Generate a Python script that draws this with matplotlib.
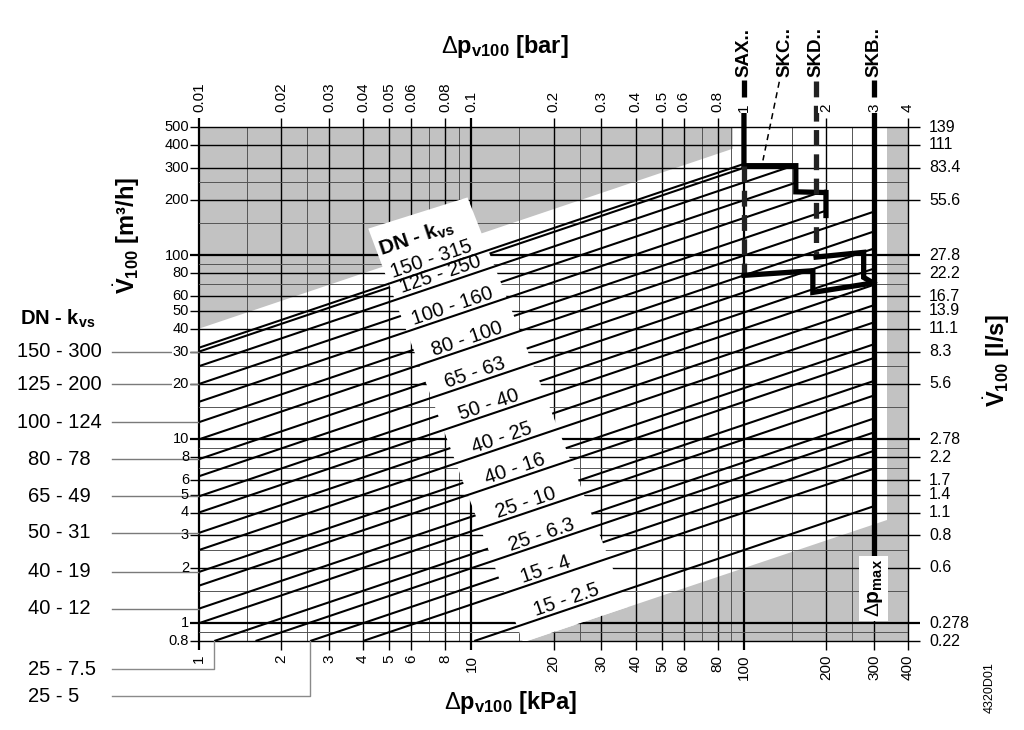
import numpy as np
import matplotlib
matplotlib.use("Agg")
import matplotlib.pyplot as plt

plt.rcParams['font.family'] = ['Liberation Sans', 'DejaVu Sans']
plt.rcParams['mathtext.fontset'] = 'custom'
plt.rcParams['mathtext.rm'] = 'Liberation Sans'
plt.rcParams['mathtext.bf'] = 'Liberation Sans:bold'
plt.rcParams['mathtext.it'] = 'Liberation Sans:italic'

# ---------------- data ----------------
x_major = [1, 2, 3, 4, 5, 6, 8, 10, 20, 30, 40, 50, 60, 80, 100, 200, 300, 400]
x_minor = [1.5, 2.5, 7, 9, 15, 25, 70, 90, 150, 250]
x_labels_kpa = ["1", "2", "3", "4", "5", "6", "8", "10", "20", "30", "40", "50", "60",
                "80", "100", "200", "300", "400"]
x_labels_bar = ["0.01", "0.02", "0.03", "0.04", "0.05", "0.06", "0.08", "0.1", "0.2",
                "0.3", "0.4", "0.5", "0.6", "0.8", "1", "2", "3", "4"]
x_thick = [1, 10, 100]

y_major = [0.8, 1, 2, 3, 4, 5, 6, 8, 10, 20, 30, 40, 50, 60, 80, 100, 200, 300, 400, 500]
y_minor = [0.9, 1.5, 2.5, 7, 9, 15, 25, 70, 90, 150, 250]
y_labels_m3h = ["0.8", "1", "2", "3", "4", "5", "6", "8", "10", "20", "30", "40", "50",
                "60", "80", "100", "200", "300", "400", "500"]
y_labels_ls = ["0.22", "0.278", "0.6", "0.8", "1.1", "1.4", "1.7", "2.2", "2.78", "5.6",
               "8.3", "11.1", "13.9", "16.7", "22.2", "27.8", "55.6", "83.4", "111", "139"]
y_thick = [1, 10, 100]

# kvs lines labelled inside the chart
kvs_inner = [315, 250, 160, 100, 63, 40, 25, 16, 10, 6.3, 4, 2.5]
dn_inner = [150, 125, 100, 80, 65, 50, 40, 40, 25, 25, 15, 15]
end_inner = [100, 152, 200, 300, 300, 300, 300, 300, 300, 300, 300, 300]
label_dp_inner = [7.3, 7.9, 8.7, 9.9, 10.6, 11.9, 13.3, 14.8, 16.2, 18.5, 19.2, 22.9]

# kvs lines labelled on the left
kvs_left = [300, 200, 124, 78, 49, 31, 19, 12, 7.5, 5]
dn_left = [150, 125, 100, 80, 65, 50, 40, 40, 25, 25]
end_left = [100, 155, 200, 300, 300, 300, 300, 300, 300, 300]
label_v_left = [30, 20, 12.4, 7.8, 4.9, 3.1, 1.9, 1.2, 0.56, 0.40]

# shaded (grey) areas, white label band
grey_top_dp = [1, 91, 91, 1]
grey_top_v = [500, 500, 381, 40]
grey_bot_dp = [16, 400, 400, 335, 335]
grey_bot_v = [0.8, 0.8, 500, 500, 3.66]
band_dp = [4.18, 9.67, 37.5, 16.0, 15.4]
band_v = [140, 207, 1.225, 0.8, 0.8]

# dp_max limit lines of actuators
sax_dp = [100, 100, 155, 155, 200, 200]
sax_v = [None, 308, 308, 222, 220, 165]
skc_dash_dp = [100, 100]
skc_dash_v = [308, 78]
skc_dp = [100, 179, 179, 300]
skc_v = [78, 82.6, 63, 71]
skd_dash_dp = [184, 184]
skd_dp = [184, 275, 275, 300]
skd_v = [98, 104, 76, 70.5]
skb_dp = [300, 300]
skb_v_end = 2.4
act_names = ["SAX..", "SKC..", "SKD..", "SKB.."]
act_label_dp = [100, 142, 184, 300]

GREY = '#c2c2c2'

fig = plt.figure(figsize=(10.24, 7.30), dpi=100)
ax = fig.add_axes([199 / 1024, 1 - 641 / 730, 709 / 1024, 514 / 730])
ax.set_xscale('log')
ax.set_yscale('log')
ax.set_xlim(1, 400)
ax.set_ylim(0.8, 500)
ax.axis('off')

xa = ax.get_xaxis_transform()
ya = ax.get_yaxis_transform()


def v_at(frac):
    return 0.8 * (500 / 0.8) ** frac


def dp_at(frac):
    return 400 ** frac


# grey areas
ax.fill(grey_top_dp, grey_top_v, color=GREY, lw=0, zorder=1)
ax.fill(grey_bot_dp, grey_bot_v, color=GREY, lw=0, zorder=1)

# grid
for x in x_major:
    ax.plot([x, x], [-0.0175, 1.0175], transform=xa, color='k',
            lw=1.6 if x in x_thick else 1.0, clip_on=False, zorder=2,
            solid_capstyle='butt')
for x in x_minor:
    ax.plot([x, x], [0, 1], transform=xa, color='#555555', lw=0.7, zorder=2)
for y in y_major:
    ax.plot([-0.013, 1.017], [y, y], transform=ya, color='k',
            lw=1.6 if y in y_thick else 1.0, clip_on=False, zorder=2,
            solid_capstyle='butt')
for y in y_minor:
    ax.plot([0, 1], [y, y], transform=ya, color='#555555', lw=0.7, zorder=2)

# tick labels
for x, lab in zip(x_major, x_labels_kpa):
    ax.text(x, -0.027, lab, transform=xa, rotation=90, ha='center', va='top',
            fontsize=11, zorder=9)
for x, lab in zip(x_major, x_labels_bar):
    ax.text(x, 1.029, lab, transform=xa, rotation=90, ha='center', va='bottom',
            fontsize=11, zorder=9,
            bbox=dict(fc='white', ec='none', pad=1.0))
leader_vals = set(v for v in label_v_left)
for y, lab in zip(y_major, y_labels_m3h):
    kw = {}
    if y in leader_vals:
        kw['bbox'] = dict(fc='white', ec='none', pad=0.6)
    ax.text(-0.014, y, lab, transform=ya, ha='right', va='center', fontsize=10.5,
            zorder=9, **kw)
for y, lab in zip(y_major, y_labels_ls):
    ax.text(1.0296, y, lab, transform=ya, ha='left', va='center', fontsize=11.5,
            zorder=9)


def kvs_line(kvs, end, z):
    start = max(1.0, (0.8 / kvs) ** 2 * 100)
    dp = np.array([start, end])
    v = kvs * np.sqrt(dp / 100)
    ax.plot(dp, v, color='k', lw=1.5, zorder=z, solid_capstyle='butt')
    return start


# left-labelled lines (under the label band)
xl_frac = -0.1227
for kvs, end, dn, vl in zip(kvs_left, end_left, dn_left, label_v_left):
    start = kvs_line(kvs, end, 3)
    if start <= 1.0:
        ax.plot([dp_at(xl_frac), 1], [vl, vl], color='#7a7a7a', lw=1.0,
                clip_on=False, zorder=2)
    else:
        ax.plot([dp_at(xl_frac), start, start], [vl, vl, 0.8], color='#8a8a8a',
                lw=1.0, clip_on=False, zorder=2)
    left = -0.2567 if dn >= 100 else -0.2412
    ax.text(left, vl, f"{dn} - {kvs:g}", transform=ya, ha='left', va='center',
            fontsize=14.5, zorder=9)

ax.text(-0.2525, 45, r"DN - k$_{\mathbf{vs}}$", transform=ya, ha='left',
        va='center', fontsize=14.5, fontweight='bold', zorder=9)

# white label band
ax.fill(band_dp, band_v, color='white', lw=0, zorder=4)

# angle of the kvs lines on screen
p1 = ax.transData.transform((1, 10))
p2 = ax.transData.transform((100, 100))
ang = np.degrees(np.arctan2(p2[1] - p1[1], p2[0] - p1[0]))

for kvs, end, dn, dpl in zip(kvs_inner, end_inner, dn_inner, label_dp_inner):
    kvs_line(kvs, end, 5)
    ax.text(dpl, kvs * np.sqrt(dpl / 100), f"{dn} - {kvs:g}", rotation=ang,
            rotation_mode='anchor', ha='center', va='bottom', fontsize=14.5,
            zorder=7)

ax.text(6.3, 124, r"DN - k$_{\mathbf{vs}}$", rotation=ang, rotation_mode='anchor',
        ha='center', va='center', fontsize=15, fontweight='bold', zorder=7)

# actuator dp_max lines
v_top = v_at(1.027)
LW = 3.8
ax.plot(sax_dp, [v_top] + sax_v[1:], color='k', lw=LW, clip_on=False, zorder=6,
        solid_joinstyle='miter')
ax.plot(skc_dash_dp, skc_dash_v, color='#222222', lw=LW, ls=(0, (3, 1.6)),
        zorder=6)
ax.plot(skc_dp, skc_v, color='k', lw=LW, zorder=6, solid_joinstyle='miter')
ax.plot(skd_dash_dp, [v_at(1.09), skd_v[0]], color='#222222', lw=LW,
        ls=(0, (3, 1.6)), clip_on=False, zorder=6)
ax.plot(skd_dp, skd_v, color='k', lw=LW, zorder=6, solid_joinstyle='miter')
ax.plot(skb_dp, [v_top, skb_v_end], color='k', lw=LW, clip_on=False, zorder=6)

# legend stubs at the top
for dpx in [100, 300]:
    ax.plot([dpx, dpx], [1.058, 1.091], transform=xa, color='k', lw=LW,
            clip_on=False, zorder=6, solid_capstyle='butt')
ax.plot([134.8, 117.4], [v_at(1.088), 329], color='k', lw=1.1, ls=(0, (4, 3)),
        clip_on=False, zorder=6)
for name, dpx in zip(act_names, act_label_dp):
    ax.text(dpx, 1.097, name, transform=xa, rotation=90, ha='center',
            va='bottom', fontsize=13.5, fontweight='bold', zorder=9)

ax.text(300, 1.55, r"$\Delta\mathbf{p}_{\mathbf{max}}$", rotation=90, ha='center',
        va='center', fontsize=15, zorder=9,
        bbox=dict(fc='white', ec='none', pad=2.5))

# axis titles
fig.text(505 / 1024, 1 - 47 / 730, r"$\Delta\mathbf{p}_{\mathbf{v100}}$ [bar]",
         ha='center', va='center', fontsize=17, fontweight='bold')
fig.text(510 / 1024, 1 - 703 / 730, r"$\Delta\mathbf{p}_{\mathbf{v100}}$ [kPa]",
         ha='center', va='center', fontsize=17, fontweight='bold')
fig.text(127 / 1024, 1 - 235 / 730, r"$\dot{\mathbf{V}}_{\mathbf{100}}$ [m³/h]",
         ha='center', va='center', rotation=90, fontsize=17, fontweight='bold')
fig.text(997 / 1024, 1 - 360 / 730, r"$\dot{\mathbf{V}}_{\mathbf{100}}$ [l/s]",
         ha='center', va='center', rotation=90, fontsize=17, fontweight='bold')
fig.text(990 / 1024, 1 - 688 / 730, "4320D01", ha='center', va='center',
         rotation=90, fontsize=9)

fig.savefig("out.png", dpi=100)
